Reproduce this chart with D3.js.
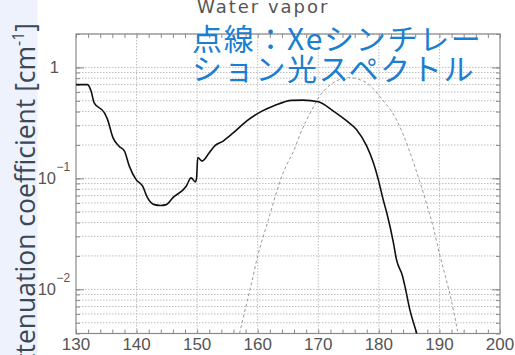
<!DOCTYPE html>
<html>
<head>
<meta charset="utf-8">
<script src="https://cdn.jsdelivr.net/npm/d3@7/dist/d3.min.js"></script>
<style>
body{margin:0;background:#fff;}
svg{display:block;}
</style>
</head>
<body>
<svg id="myGraph" width="515" height="355"></svg>
<script>
// 水蒸気の減衰係数 (波長 nm, cm^-1)
var waveH2O=[130,131.9,132.5,133,134.7,135.2,136.1,137.1,138,138.8,139.9,141,141.8,142.9,144,144.9,146,148.2,149,149.7,149.9,150.1,150.8,152,152.9,154.3,156,158.2,160.7,162.6,165.6,167.5,170,172.5,174.7,176.3,178,179.1,179.9,180.7,181.3,182.4,182.9,183.9,184.3,185.1,186.2,186.6];
var coefH2O=[0.70,0.70,0.61,0.48,0.39,0.34,0.233,0.195,0.176,0.129,0.098,0.085,0.067,0.058,0.057,0.058,0.067,0.085,0.101,0.093,0.10,0.154,0.143,0.170,0.196,0.217,0.258,0.329,0.404,0.449,0.505,0.507,0.491,0.404,0.329,0.276,0.195,0.138,0.098,0.0647,0.049,0.0264,0.0186,0.0132,0.0107,0.0066,0.0041,0.0034];
// Xeシンチレーション光スペクトル(点線, 任意スケール)
var waveXe=[157,158,159,160,161,162,163,164,165,166,167,168,169,170,171,172,173,174,175,176,177,178,179,180,181,182,183,184,185,186,187,188,189,190,191,192,193];
var specXe=[0.0040,0.0068,0.0115,0.020,0.031,0.047,0.072,0.105,0.140,0.180,0.250,0.330,0.420,0.530,0.620,0.700,0.755,0.795,0.810,0.800,0.770,0.725,0.650,0.560,0.480,0.410,0.330,0.250,0.180,0.125,0.085,0.056,0.036,0.021,0.013,0.0078,0.0042];
var xTicks=[130,140,150,160,170,180,190,200];
var yTicks=[1,0.1,0.01];
var yTickExp=["","−1","−2"];

(function(){
var svg=d3.select("#myGraph");
var pl=76,pr=500,pt=34,pb=333.5;

var xScale=d3.scaleLinear().domain([130,200]).range([pl,pr]);
var yScale=d3.scaleLog().domain([0.004,2]).range([pb,pt]);

// 左の帯
svg.append("rect").attr("x",0).attr("y",0).attr("width",37.5).attr("height",355).style("fill","#eef2fc");

// グリッド
var minorY=[];
[0.001,0.01,0.1,1].forEach(function(d){
	for(var k=1;k<10;k++){
		var v=d*k;
		if(v>=0.004&&v<=2.0001) minorY.push(v);
	}
});
svg.append("g")
.selectAll("line")
.data(minorY)
.enter()
.append("line")
.attr("x1",pl).attr("x2",pr)
.attr("y1",function(d){return yScale(d);})
.attr("y2",function(d){return yScale(d);})
.style("stroke","#bdbdbd").style("stroke-dasharray","1.5,1.5");

svg.append("g")
.selectAll("line")
.data(xTicks.slice(1,-1))
.enter()
.append("line")
.attr("x1",function(d){return xScale(d);})
.attr("x2",function(d){return xScale(d);})
.attr("y1",pt).attr("y2",pb)
.style("stroke","#bdbdbd").style("stroke-dasharray","1.5,1.5");

// 目盛り(内向き)
var minorX=d3.range(130,201,2);
function noDomain(g){g.select(".domain").remove();}
svg.append("g").attr("transform","translate(0,"+pb+")")
.call(d3.axisBottom(xScale).tickValues(minorX).tickSize(-4).tickFormat("")).call(noDomain);
svg.append("g").attr("transform","translate(0,"+pt+")")
.call(d3.axisTop(xScale).tickValues(minorX).tickSize(-4).tickFormat("")).call(noDomain);
svg.append("g").attr("transform","translate("+pl+",0)")
.call(d3.axisLeft(yScale).tickValues(minorY).tickSize(-4).tickFormat("")).call(noDomain);
svg.append("g").attr("transform","translate("+pr+",0)")
.call(d3.axisRight(yScale).tickValues(minorY).tickSize(-4).tickFormat("")).call(noDomain);
svg.append("g").attr("transform","translate("+pl+",0)")
.call(d3.axisLeft(yScale).tickValues(yTicks).tickSize(-8).tickFormat("")).call(noDomain);
svg.append("g").attr("transform","translate("+pr+",0)")
.call(d3.axisRight(yScale).tickValues(yTicks).tickSize(-8).tickFormat("")).call(noDomain);
svg.selectAll(".tick line").style("stroke","#8a8a8a");

// 枠
svg.append("rect").attr("x",pl).attr("y",pt).attr("width",pr-pl).attr("height",pb-pt)
.style("fill","none").style("stroke","#8a8a8a").style("stroke-width",1.2);

// 目盛りラベル
svg.append("g")
.selectAll("text")
.data(xTicks)
.enter()
.append("text")
.attr("x",function(d){return xScale(d);})
.attr("y",350)
.attr("text-anchor","middle")
.style("font-family","Liberation Sans").style("font-size","17px").style("fill","#555")
.text(function(d){return d;});

svg.append("g")
.selectAll("text")
.data(yTicks)
.enter()
.append("text")
.attr("x",function(d,i){return i==0?59:56;})
.attr("y",function(d){return yScale(d)+6;})
.attr("text-anchor","end")
.style("font-family","Liberation Sans").style("font-size","16.5px").style("fill","#555")
.text(function(d,i){return i==0?"1":"10";});
svg.append("g")
.selectAll("text")
.data(yTicks.slice(1))
.enter()
.append("text")
.attr("x",56.5)
.attr("y",function(d){return yScale(d)-7.5;})
.style("font-family","Liberation Sans").style("font-size","12px").style("fill","#555")
.text(function(d,i){return yTickExp[i+1];});

// 曲線
svg.append("clipPath").attr("id","plotClip")
.append("rect").attr("x",pl).attr("y",pt).attr("width",pr-pl).attr("height",pb-pt);

var line=d3.line()
.x(function(d){return xScale(d[0]);})
.y(function(d){return yScale(d[1]);})
.curve(d3.curveMonotoneX);

svg.append("path")
.datum(d3.zip(waveXe,specXe))
.attr("clip-path","url(#plotClip)")
.attr("d",line)
.style("fill","none").style("stroke","#999").style("stroke-width",1).style("stroke-dasharray","3,2.5");

svg.append("path")
.datum(d3.zip(waveH2O,coefH2O))
.attr("clip-path","url(#plotClip)")
.attr("d",line)
.style("fill","none").style("stroke","#111").style("stroke-width",1.6);

// タイトル・注記
svg.append("text").attr("x",197).attr("y",13)
.style("font-family","DejaVu Sans").style("font-size","18px").style("letter-spacing","2px").style("fill","#555")
.text("Water vapor");

svg.append("text").attr("x",192).attr("y",50)
.style("font-family","Noto Sans CJK JP").style("font-size","30px").style("letter-spacing","1.7px").style("fill","#1a7fd2")
.text("点線：Xeシンチレー");
svg.append("text").attr("x",192).attr("y",80)
.style("font-family","Noto Sans CJK JP").style("font-size","30px").style("letter-spacing","1.7px").style("fill","#1a7fd2")
.text("ション光スペクトル");

// 縦軸ラベル
var yt=svg.append("text")
.attr("transform","translate(35,23) rotate(-90)")
.attr("text-anchor","end")
.style("font-family","Open Sans").style("font-size","26.5px").style("fill","#3b4856");
yt.append("tspan").text("Attenuation coefficient [cm");
yt.append("tspan").attr("dy",-11).style("font-size","16px").text("-1");
yt.append("tspan").attr("dy",11).text("]");
})();
</script>
</body>
</html>
